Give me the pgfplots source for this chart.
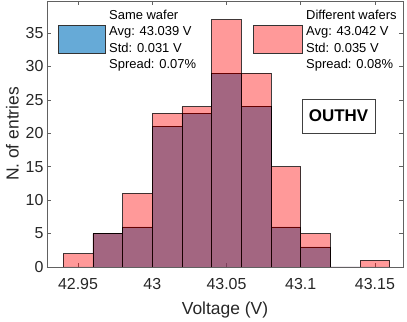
\documentclass[border=0pt]{standalone}
\usepackage{pgfplots}
\pgfplotsset{compat=1.18}
\usepackage{fontspec}
\setmainfont{Liberation Sans}
\definecolor{mblue}{rgb}{0,0.447,0.741}
\definecolor{axgray}{rgb}{0.38,0.38,0.38}
\definecolor{txtgray}{rgb}{0.15,0.15,0.15}
\begin{document}
\begin{tikzpicture}[x=1bp,y=1bp]
\begin{axis}[
  name=ax,
  scale only axis,
  width=356bp, height=266bp,
  xmin=42.9291, xmax=43.1689,
  ymin=0, ymax=39.8,
  xtick={42.95,43,43.05,43.1,43.15},
  xticklabels={42.95,43,43.05,43.1,43.15},
  ytick={0,5,...,35},
  tick pos=both,
  tick align=inside,
  major tick length=4bp,
  axis line style={axgray, line width=0.6bp},
  every tick/.style={axgray, line width=0.6bp},
  tick label style={font=\fontsize{16}{16}\selectfont, text=txtgray},
  xticklabel style={yshift=-8bp},
  /pgf/number format/assume math mode=true,
  xlabel={Voltage (V)},
  ylabel={N. of entries},
  label style={font=\fontsize{17.5}{17.5}\selectfont, text=txtgray},
  xlabel style={yshift=-5bp},
  ylabel style={yshift=0bp},
  clip=true,
]
\addplot[ybar interval, fill=mblue, fill opacity=0.6, draw=black, line width=0.7bp]
  coordinates {(42.94,0)(42.96,5)(42.98,6)(43.00,21)(43.02,23)(43.04,29)(43.06,24)(43.08,6)(43.10,3)(43.12,0)(43.14,0)(43.16,0)};
\addplot[ybar interval, fill=red, fill opacity=0.4, draw=black, draw opacity=0.75, line width=0.7bp]
  coordinates {(42.94,2)(42.96,5)(42.98,11)(43.00,23)(43.02,24)(43.04,37)(43.06,29)(43.08,15)(43.10,5)(43.12,0)(43.14,1)(43.16,1)};
\end{axis}
\begin{scope}[shift={(ax.south west)}]
  \filldraw[fill=mblue, fill opacity=0.6, draw=black!80, line width=0.7bp] (58-47,267-53) rectangle (105-47,267-25);
  \filldraw[fill=red, fill opacity=0.4, draw=black!80, line width=0.7bp] (253-47,267-53) rectangle (302-47,267-25);
  \begin{scope}[every node/.style={anchor=west, inner sep=0pt, font=\fontsize{13}{13}\selectfont, text=black}]
    \node at (109-47,267-15) {Same wafer};
    \node at (109-47,267-32) {Avg: 43.039 V};
    \node at (109-47,267-48) {Std: 0.031 V};
    \node at (109-47,267-65) {Spread: 0.07\%};
    \node at (306-47,267-15) {Different wafers};
    \node at (306-47,267-32) {Avg: 43.042 V};
    \node at (306-47,267-48) {Std: 0.035 V};
    \node at (306-47,267-65) {Spread: 0.08\%};
  \end{scope}
  \filldraw[fill=white, draw=black!75, line width=0.7bp] (302-47,267-133) rectangle (375-47,267-99);
  \node[font=\fontsize{17}{17}\selectfont\bfseries, inner sep=0pt] at (338.5-47,267-116) {OUTHV};
  \path (-47,-51) rectangle (360,267);
\end{scope}
\end{tikzpicture}
\end{document}
